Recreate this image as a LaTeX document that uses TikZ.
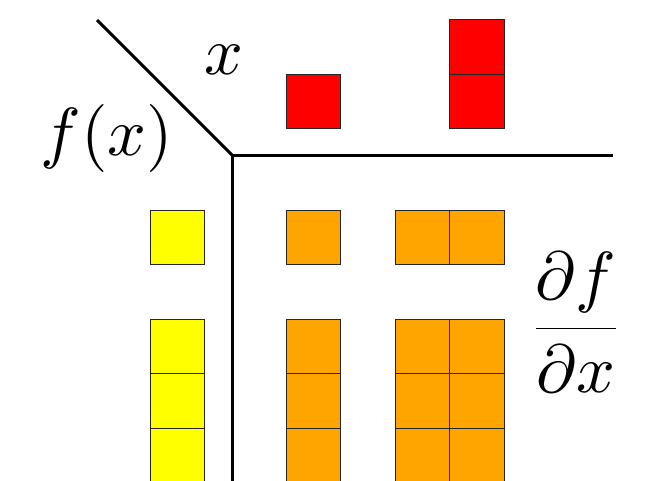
\documentclass[tikz,border=0pt]{standalone}
\usepackage{amsmath}
\definecolor{cred}{RGB}{255,0,0}
\definecolor{cyel}{RGB}{255,255,0}
\definecolor{corg}{RGB}{255,165,0}
\newcommand{\bigmath}[1]{\scalebox{6.8}{#1}}
\begin{document}
\begin{tikzpicture}[x=1pt,y=-1pt,
  cell/.style={draw=black!85,line width=0.9pt,minimum size=54.5pt,inner sep=0pt,outer sep=0pt},
  red cell/.style={cell,fill=cred},
  yel cell/.style={cell,fill=cyel},
  org cell/.style={cell,fill=corg},
  axisline/.style={line width=3pt,black},
  lab/.style={inner sep=0pt}]
\useasboundingbox (0,0) rectangle (655,480);
% axes
\coordinate (d0) at (97,20);
\coordinate (o) at (232,155);
\coordinate (h1) at (612.5,155);
\coordinate (v1) at (232,485);
\draw[axisline] (d0) -- (o);
\draw[axisline] (o) -- (h1);
\draw[axisline] (o) -- (v1);
% red (x)
\node[red cell] (r1) at (313.5,101.25) {};
\node[red cell] (r2a) at (477,46.75) {};
\node[red cell] (r2b) at (477,101.25) {};
% yellow (f(x))
\node[yel cell] (y1) at (177.5,237.5) {};
\node[yel cell] (y2a) at (177.5,346.5) {};
\node[yel cell] (y2b) at (177.5,401) {};
\node[yel cell] (y2c) at (177.5,455.5) {};
% orange (df/dx)
\node[org cell] (o11) at (313.5,237.5) {};
\node[org cell] (o12a) at (422.25,237.5) {};
\node[org cell] (o12b) at (476.75,237.5) {};
\node[org cell] (o21a) at (313.5,346.5) {};
\node[org cell] (o21b) at (313.5,401) {};
\node[org cell] (o21c) at (313.5,455.5) {};
\node[org cell] (o22a) at (422.25,346.5) {};
\node[org cell] (o22b) at (422.25,401) {};
\node[org cell] (o22c) at (422.25,455.5) {};
\node[org cell] (o23a) at (476.75,346.5) {};
\node[org cell] (o23b) at (476.75,401) {};
\node[org cell] (o23c) at (476.75,455.5) {};
% labels
\node[lab] (lx) at (224,60) {\bigmath{$x$}};
\node[lab] (lf) at (107,138) {\bigmath{$f(x)$}};
\node[lab] (ld) at (576,322.5) {\bigmath{$\genfrac{}{}{0.17pt}{0}{\partial f}{\partial x}$}};
\end{tikzpicture}
\end{document}
